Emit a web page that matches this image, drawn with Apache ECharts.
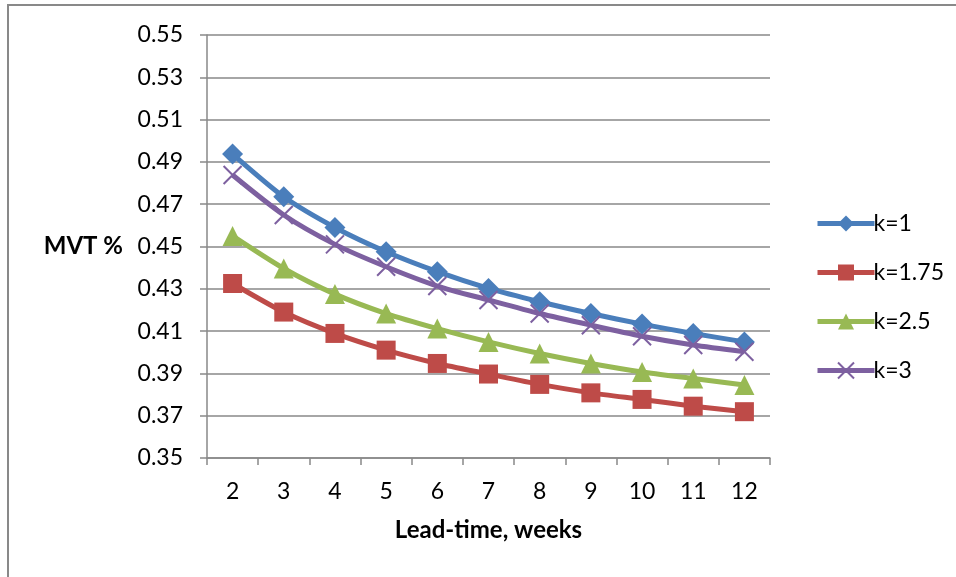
<!DOCTYPE html>
<html>
<head>
<meta charset="utf-8">
<script src="https://cdn.jsdelivr.net/npm/echarts@6/dist/echarts.min.js"></script>
<style>
  html, body { margin: 0; padding: 0; background: #fff; }
  #chart { width: 956px; height: 577px; }
</style>
</head>
<body>
<div id="chart"></div>
<script>
// Lead-time in weeks
const leadTimes = ['2', '3', '4', '5', '6', '7', '8', '9', '10', '11', '12'];

// MVT % for each safety factor k
const k1    = [0.4937, 0.4735, 0.4590, 0.4475, 0.4381, 0.4302, 0.4239, 0.4183, 0.4133, 0.4089, 0.4049];
const k175  = [0.4325, 0.4190, 0.4089, 0.4010, 0.3947, 0.3897, 0.3848, 0.3808, 0.3777, 0.3745, 0.3719];
const k25   = [0.4550, 0.4396, 0.4275, 0.4183, 0.4112, 0.4049, 0.3994, 0.3947, 0.3907, 0.3876, 0.3845];
const k3    = [0.4838, 0.4649, 0.4510, 0.4404, 0.4313, 0.4247, 0.4183, 0.4128, 0.4076, 0.4034, 0.4002];

const seriesNames = ['k=1', 'k=1.75', 'k=2.5', 'k=3'];

const FONT = 'Lato, "Open Sans", sans-serif';
const AXIS_GRAY = '#898989';

const chart = echarts.init(document.getElementById('chart'), null, { renderer: 'canvas' });

function makeSeries(name, data, color, symbol, size, extra) {
  return Object.assign({
    name: name,
    type: 'line',
    data: data,
    symbol: symbol,
    symbolSize: size,
    showAllSymbol: true,
    smooth: 0.25,
    lineStyle: { color: color, width: 5 },
    itemStyle: { color: color },
    emphasis: { disabled: true },
    z: 3
  }, extra || {});
}

chart.setOption({
  animation: false,
  backgroundColor: '#ffffff',
  textStyle: { fontFamily: FONT },
  graphic: [{
    type: 'rect',
    shape: { x: 8, y: 5, width: 1200, height: 800 },
    style: { fill: 'none', stroke: AXIS_GRAY, lineWidth: 2 },
    silent: true,
    z: -10
  }],
  grid: { left: 207, right: 186, top: 35, bottom: 119 },
  legend: {
    orient: 'vertical',
    left: 810,
    top: 207,
    itemWidth: 57,
    itemHeight: 20,
    itemGap: 26,
    data: seriesNames,
    lineStyle: { width: 5 },
    textStyle: { fontFamily: FONT, fontSize: 23, color: '#000', lineHeight: 22, padding: [0, 0, 0, -6] }
  },
  xAxis: {
    type: 'category',
    data: leadTimes,
    boundaryGap: true,
    name: 'Lead-time, weeks',
    nameLocation: 'middle',
    nameGap: 60,
    nameTextStyle: { fontFamily: FONT, fontSize: 24, fontWeight: 'bold', color: '#000' },
    axisLine: { show: true, lineStyle: { color: AXIS_GRAY, width: 1.5 } },
    axisTick: { show: true, length: 7, lineStyle: { color: AXIS_GRAY, width: 1.5 } },
    axisLabel: { margin: 22, fontFamily: FONT, fontSize: 23, color: '#000' },
    splitLine: { show: false }
  },
  yAxis: {
    type: 'value',
    min: 0.35,
    max: 0.55,
    interval: 0.02,
    name: 'MVT %',
    nameLocation: 'middle',
    nameRotate: 0,
    nameGap: 84,
    nameTextStyle: { fontFamily: FONT, fontSize: 24, fontWeight: 'bold', color: '#000', align: 'right' },
    axisLine: { show: true, lineStyle: { color: AXIS_GRAY, width: 1.5 } },
    axisTick: { show: true, length: 7, lineStyle: { color: AXIS_GRAY, width: 1.5 } },
    axisLabel: {
      margin: 24,
      fontFamily: FONT,
      fontSize: 23,
      color: '#000',
      formatter: v => v.toFixed(2)
    },
    splitLine: { show: true, lineStyle: { color: AXIS_GRAY, width: 1.5 } }
  },
  series: [
    makeSeries('k=1', k1, '#4A7EBB', 'diamond', 21),
    makeSeries('k=1.75', k175, '#BE4B48', 'rect', 19),
    makeSeries('k=2.5', k25, '#98B954', 'triangle', 20),
    makeSeries('k=3', k3, '#7D60A0', 'path://M0,0L10,10M10,0L0,10', 18, {
      itemStyle: { color: 'none', borderColor: '#7D60A0', borderWidth: 2 }
    })
  ]
});
</script>
</body>
</html>
